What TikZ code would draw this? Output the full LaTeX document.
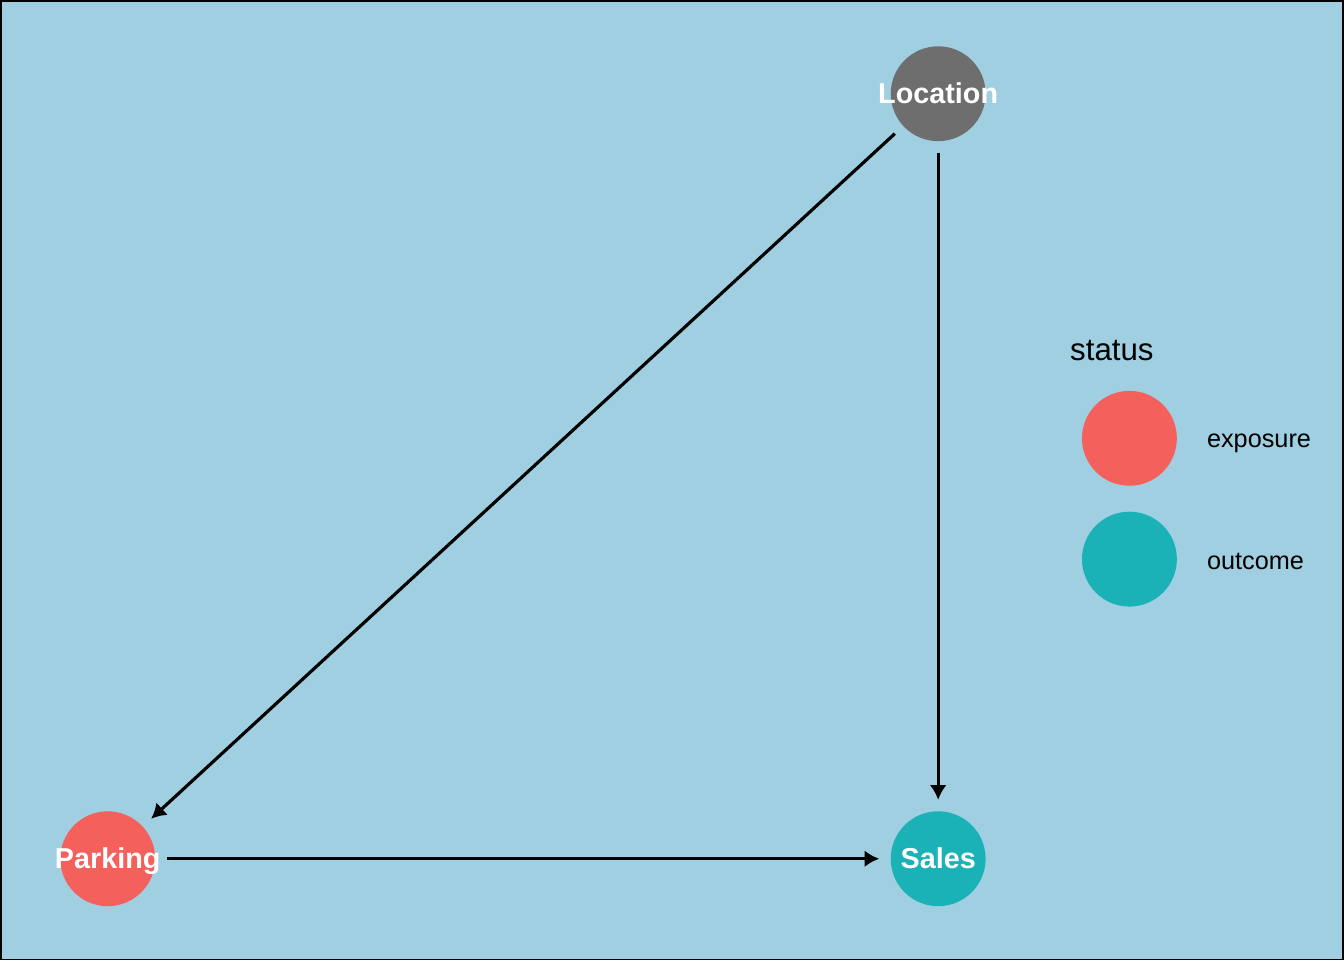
\documentclass[tikz,border=0pt]{standalone}
\usepackage{fontspec}
\setmainfont{Liberation Sans}
\usetikzlibrary{arrows.meta}
\definecolor{panelbg}{HTML}{9FCFE0}
\definecolor{latentcol}{HTML}{6E6E6E}
\definecolor{exposurecol}{HTML}{F4615C}
\definecolor{outcomecol}{HTML}{1AB2B6}
\begin{document}
\begin{tikzpicture}[
    dagnode/.style={circle, minimum size=0.95cm, inner sep=0pt, outer sep=0.115cm},
    daglabel/.style={text=white, anchor=base, yshift=-0.10cm, font=\fontsize{8.2}{10}\selectfont\bfseries},
    keydot/.style={circle, minimum size=0.95cm, inner sep=0pt},
    keytext/.style={anchor=west, font=\fontsize{7.2}{9}\selectfont},
    dagedge/.style={line width=0.9pt, -{Latex[length=4.2pt,width=4.8pt]}}]
\draw[fill=panelbg, line width=0.5pt] (0,0) rectangle (13.44,9.6);
\node[dagnode, fill=latentcol] (location) at (9.385,8.67) {};
\node[dagnode, fill=exposurecol] (parking) at (1.07,1.01) {};
\node[dagnode, fill=outcomecol] (sales) at (9.385,1.01) {};
\node[daglabel] at (location.center) {Location};
\node[daglabel] at (parking.center) {Parking};
\node[daglabel] at (sales.center) {Sales};
\draw[dagedge] (location) -- (parking);
\draw[dagedge] (location) -- (sales);
\draw[dagedge] (parking) -- (sales);
% legend
\node[anchor=west, inner sep=0pt, font=\fontsize{8.9}{11}\selectfont] (status) at (10.70,6.10) {status};
\node[keydot, fill=exposurecol] (keyexp) at (11.30,5.22) {};
\node[keydot, fill=outcomecol] (keyout) at (11.30,4.01) {};
\node[keytext, inner sep=0pt] (expname) at (12.07,5.17) {exposure};
\node[keytext, inner sep=0pt] (outname) at (12.07,3.99) {outcome};
\end{tikzpicture}
\end{document}
